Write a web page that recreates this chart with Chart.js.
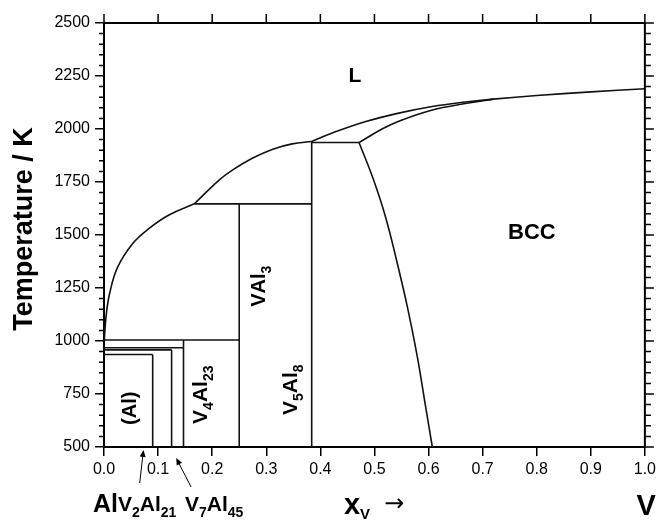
<!DOCTYPE html>
<html>
<head>
<meta charset="utf-8">
<script src="https://cdn.jsdelivr.net/npm/chart.js@4/dist/chart.umd.min.js"></script>
<style>html,body{margin:0;padding:0;background:#fff}canvas{display:block}</style>
</head>
<body>
<canvas id="c" width="660" height="524"></canvas>
<script>
const FONT = '"Liberation Sans", Arial, Helvetica, sans-serif';

// Axis ticks
const xTickValues = [0.0, 0.1, 0.2, 0.3, 0.4, 0.5, 0.6, 0.7, 0.8, 0.9, 1.0];
const yTickValues = [500, 750, 1000, 1250, 1500, 1750, 2000, 2250, 2500];
const yMinorStep = 50;

// Liquidus, Al-rich branch up to the VAl3 peritectic
const liqAlX = [0.0005, 0.004, 0.0105, 0.025, 0.0535, 0.084, 0.12, 0.167];
const liqAlT = [1005, 1120, 1225, 1347, 1461, 1532, 1594, 1647];

// Liquidus between the VAl3 and V5Al8 peritectics
const liqMidX = [0.167, 0.2133, 0.238, 0.275, 0.312, 0.348, 0.384];
const liqMidT = [1647, 1760, 1807, 1863, 1905, 1930, 1941];

// Liquidus above the BCC field, up to pure V
const liqHighX = [0.384, 0.422, 0.484, 0.545, 0.607, 0.668, 0.72, 0.80, 0.90, 1.0];
const liqHighT = [1941, 1981, 2035, 2075, 2106, 2127, 2141, 2158, 2175, 2190];

// BCC solidus
const solidusX = [0.4715, 0.514, 0.545, 0.607, 0.668, 0.72];
const solidusT = [1936, 2000, 2037, 2090, 2120, 2141];

// BCC solvus towards V5Al8
const solvusX = [0.4715, 0.497, 0.52, 0.541, 0.561, 0.579, 0.594, 0.607];
const solvusT = [1936, 1770, 1590, 1380, 1160, 930, 700, 500];

// Invariant (horizontal) reactions
const invariantT    = [1936, 1647, 1005, 968, 958, 936];
const invariantFrom = [0.384, 0.167, 0.0, 0.0, 0.0, 0.0];
const invariantTo   = [0.4715, 0.384, 0.25, 0.147, 0.125, 0.09];

// Line compounds: V2Al21, V7Al45, V4Al23, VAl3, V5Al8
const compoundX   = [0.09, 0.125, 0.147, 0.25, 0.384];
const compoundTop = [936, 958, 1005, 1647, 1941];
const tMin = 500, tMax = 2500;

const pts = (xs, ts) => xs.map((v, i) => ({x: v, y: ts[i]}));
const lineStyle = {showLine: true, borderColor: '#111', borderWidth: 1.6, pointRadius: 0, fill: false};
const curveStyle = {...lineStyle, tension: 0.4};

const datasets = [
  {...curveStyle, data: pts(liqAlX, liqAlT)},
  {...curveStyle, data: pts(liqMidX, liqMidT)},
  {...curveStyle, data: pts(liqHighX, liqHighT)},
  {...curveStyle, data: pts(solidusX, solidusT)},
  {...curveStyle, data: pts(solvusX, solvusT)}
];
invariantT.forEach((t, i) => datasets.push({...lineStyle, data: [{x: invariantFrom[i], y: t}, {x: invariantTo[i], y: t}]}));
compoundX.forEach((c, i) => datasets.push({...lineStyle, data: [{x: c, y: tMin}, {x: c, y: compoundTop[i]}]}));

// Text with subscripts: parts = [[text, isSub], ...]
function richText(ctx, parts, x, y, size, subSize, subDrop, align) {
  const widths = parts.map(([t, s]) => { ctx.font = `bold ${s ? subSize : size}px ${FONT}`; return ctx.measureText(t).width; });
  const total = widths.reduce((a, b) => a + b, 0);
  let cx = align === 'center' ? x - total / 2 : align === 'right' ? x - total : x;
  ctx.textAlign = 'left';
  ctx.textBaseline = 'alphabetic';
  parts.forEach(([t, s], i) => {
    ctx.font = `bold ${s ? subSize : size}px ${FONT}`;
    ctx.fillText(t, cx, y + (s ? subDrop : 0));
    cx += widths[i];
  });
}

function rotatedRich(ctx, parts, px, py, size) {
  ctx.save();
  ctx.translate(px, py);
  ctx.rotate(-Math.PI / 2);
  richText(ctx, parts, 0, 0, size, Math.round(size * 0.68), Math.round(size * 0.28), 'left');
  ctx.restore();
}

function arrow(ctx, x1, y1, x2, y2) {
  const ang = Math.atan2(y2 - y1, x2 - x1), L = 7, W = 3;
  ctx.beginPath();
  ctx.moveTo(x1, y1); ctx.lineTo(x2 - L * 0.6 * Math.cos(ang), y2 - L * 0.6 * Math.sin(ang));
  ctx.stroke();
  ctx.beginPath();
  ctx.moveTo(x2, y2);
  ctx.lineTo(x2 - L * Math.cos(ang) + W * Math.sin(ang), y2 - L * Math.sin(ang) - W * Math.cos(ang));
  ctx.lineTo(x2 - L * Math.cos(ang) - W * Math.sin(ang), y2 - L * Math.sin(ang) + W * Math.cos(ang));
  ctx.closePath();
  ctx.fill();
}

const decorations = {
  id: 'decorations',
  afterDraw(chart) {
    const {ctx, chartArea: a, scales: {x, y}} = chart;
    ctx.save();
    ctx.strokeStyle = '#000';
    ctx.fillStyle = '#000';

    // frame: top and right edges
    ctx.lineWidth = 2;
    ctx.beginPath();
    ctx.moveTo(a.left, a.top); ctx.lineTo(a.right, a.top); ctx.lineTo(a.right, a.bottom);
    ctx.stroke();

    // top ticks, right ticks, left minor ticks
    ctx.lineWidth = 1.5;
    ctx.beginPath();
    xTickValues.forEach(v => {
      const px = x.getPixelForValue(v);
      ctx.moveTo(px, a.top); ctx.lineTo(px, a.top - 9);
    });
    for (let t = tMin; t <= tMax; t += yMinorStep) {
      const py = y.getPixelForValue(t);
      const major = yTickValues.includes(t);
      ctx.moveTo(a.right, py); ctx.lineTo(a.right + (major ? 9 : 6), py);
      if (!major) { ctx.moveTo(a.left - 5, py); ctx.lineTo(a.left + 1, py); }
    }
    ctx.stroke();

    // y-axis title
    ctx.save();
    ctx.translate(25, 229);
    ctx.rotate(-Math.PI / 2);
    ctx.font = `bold 27px ${FONT}`;
    ctx.textAlign = 'center';
    ctx.textBaseline = 'middle';
    ctx.fillText('Temperature / K', 0, 0);
    ctx.restore();

    // phase field labels
    ctx.font = `bold 21px ${FONT}`;
    ctx.textAlign = 'center';
    ctx.textBaseline = 'middle';
    ctx.fillText('L', x.getPixelForValue(0.464), y.getPixelForValue(2251));
    ctx.font = `bold 22px ${FONT}`;
    ctx.fillText('BCC', x.getPixelForValue(0.791), y.getPixelForValue(1510));

    rotatedRich(ctx, [['V', 0], ['Al', 0], ['3', 1]], x.getPixelForValue(0.298), y.getPixelForValue(1161), 20);
    rotatedRich(ctx, [['V', 0], ['5', 1], ['Al', 0], ['8', 1]], x.getPixelForValue(0.357), y.getPixelForValue(651), 21);
    rotatedRich(ctx, [['V', 0], ['4', 1], ['Al', 0], ['23', 1]], x.getPixelForValue(0.19), y.getPixelForValue(609), 21);
    rotatedRich(ctx, [['(Al)', 0]], x.getPixelForValue(0.06), y.getPixelForValue(604), 20);

    // labels below the composition axis
    const x0 = x.getPixelForValue(0), base = a.bottom;
    richText(ctx, [['Al', 0]], x0 - 11, base + 65, 25, 25, 0, 'left');
    richText(ctx, [['V', 0], ['2', 1], ['Al', 0], ['21', 1]], x0 + 14, base + 64, 21, 14, 6, 'left');
    richText(ctx, [['V', 0], ['7', 1], ['Al', 0], ['45', 1]], x0 + 81, base + 64, 21, 14, 6, 'left');
    richText(ctx, [['x', 0], ['V', 1]], x.getPixelForValue(0.4436), base + 67, 29, 15, 5, 'left');
    ctx.font = `24px "DejaVu Sans", ${FONT}`;
    ctx.textAlign = 'left';
    ctx.textBaseline = 'middle';
    ctx.fillText('\u2192', x.getPixelForValue(0.518), base + 58);
    richText(ctx, [['V', 0]], x.getPixelForValue(1.0) + 11, base + 68, 29, 29, 0, 'right');

    // pointer arrows to the narrow compound fields
    ctx.lineWidth = 1;
    arrow(ctx, x.getPixelForValue(0.066), base + 36, x.getPixelForValue(0.073), base + 3);
    arrow(ctx, x.getPixelForValue(0.161), base + 40, x.getPixelForValue(0.1335), base + 11);

    ctx.restore();
  }
};

new Chart(document.getElementById('c'), {
  type: 'scatter',
  data: {datasets},
  options: {
    responsive: false,
    animation: false,
    layout: {padding: {top: 23, right: 13, bottom: 0, left: 0}},
    plugins: {legend: {display: false}, tooltip: {enabled: false}},
    scales: {
      x: {
        type: 'linear', min: 0, max: 1,
        afterBuildTicks: s => { s.ticks = xTickValues.map(v => ({value: v})); },
        afterFit: s => { s.height = 77; },
        ticks: {
          color: '#000', padding: 4, maxRotation: 0, autoSkip: false,
          font: {family: FONT, size: 16},
          callback: v => Number(v).toFixed(1)
        },
        grid: {drawOnChartArea: false, drawTicks: true, tickLength: 9, color: '#000', lineWidth: 1.5},
        border: {display: true, color: '#000', width: 2}
      },
      y: {
        type: 'linear', min: tMin, max: tMax,
        afterBuildTicks: s => { s.ticks = yTickValues.map(v => ({value: v})); },
        afterFit: s => { s.width = 104; },
        ticks: {color: '#000', padding: 5, font: {family: FONT, size: 16}, callback: v => String(v)},
        grid: {drawOnChartArea: false, drawTicks: true, tickLength: 9, color: '#000', lineWidth: 1.5},
        border: {display: true, color: '#000', width: 2}
      }
    }
  },
  plugins: [decorations]
});
</script>
</body>
</html>
